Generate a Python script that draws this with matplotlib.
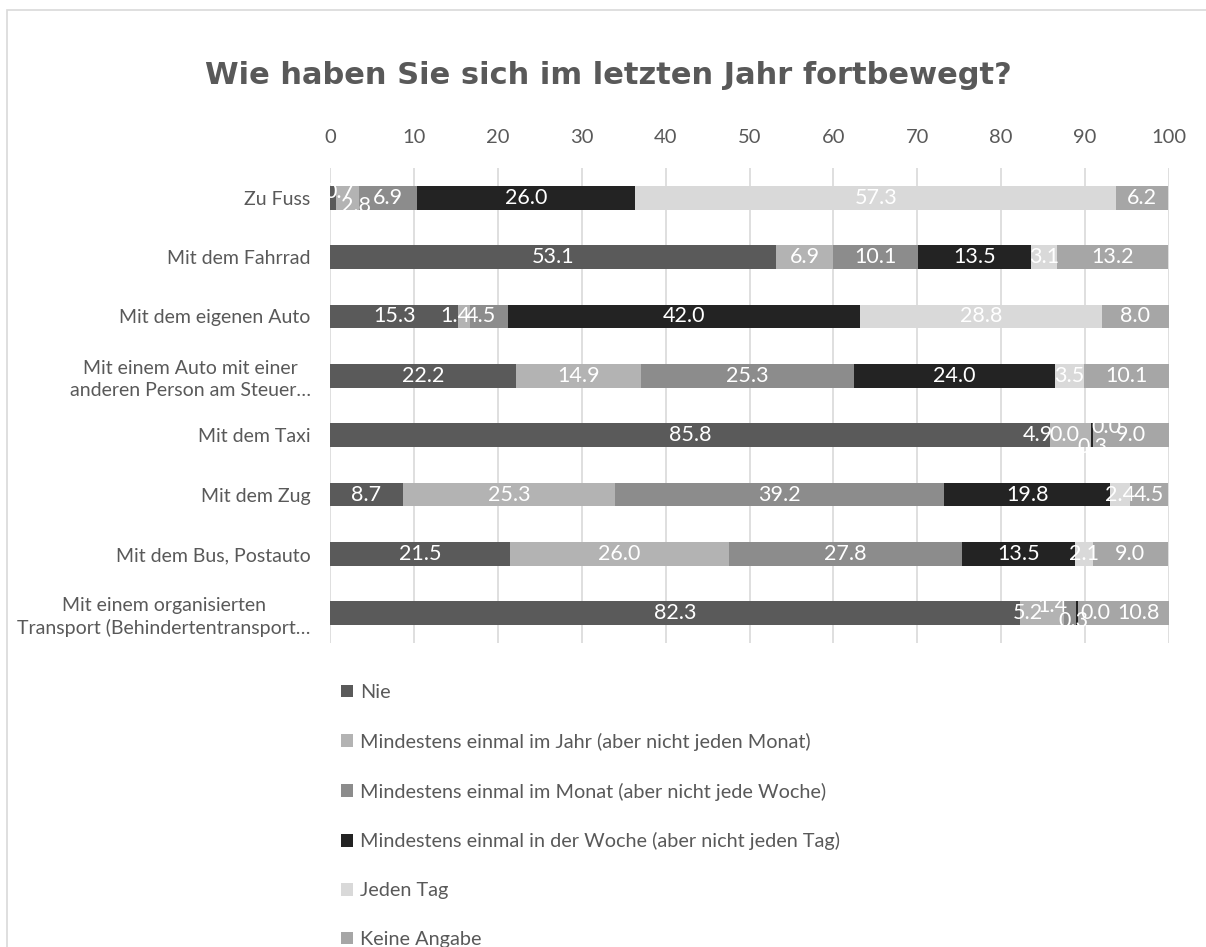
import matplotlib
matplotlib.use("Agg")
import matplotlib.pyplot as plt
from matplotlib.patches import Rectangle

plt.rcParams['font.family'] = ['Lato', 'DejaVu Sans']

categories = ["Zu Fuss", "Mit dem Fahrrad", "Mit dem eigenen Auto",
              "Mit einem Auto mit einer\nanderen Person am Steuer…", "Mit dem Taxi",
              "Mit dem Zug", "Mit dem Bus, Postauto",
              "Mit einem organisierten\nTransport (Behindertentransport…"]
series_names = ["Nie",
                "Mindestens einmal im Jahr (aber nicht jeden Monat)",
                "Mindestens einmal im Monat (aber nicht jede Woche)",
                "Mindestens einmal in der Woche (aber nicht jeden Tag)",
                "Jeden Tag",
                "Keine Angabe"]
nie = [0.7, 53.1, 15.3, 22.2, 85.8, 8.7, 21.5, 82.3]
jahr = [2.8, 6.9, 1.4, 14.9, 4.9, 25.3, 26.0, 5.2]
monat = [6.9, 10.1, 4.5, 25.3, 0.0, 39.2, 27.8, 1.4]
woche = [26.0, 13.5, 42.0, 24.0, 0.3, 19.8, 13.5, 0.3]
tag = [57.3, 3.1, 28.8, 3.5, 0.0, 2.4, 2.1, 0.0]
keine = [6.2, 13.2, 8.0, 10.1, 9.0, 4.5, 9.0, 10.8]
series = [nie, jahr, monat, woche, tag, keine]

colors = ['#5a5a5a', '#b3b3b3', '#8c8c8c', '#232323', '#d9d9d9', '#a6a6a6']
grey = '#595959'

# Verschiebung der Beschriftungen bei sehr schmalen Segmenten (Pixel)
label_shift = {(0, 0): (7, 6), (0, 1): (8, -8), (2, 1): (-9, 0), (2, 2): (-8, 0),
               (4, 1): (-33, 0), (4, 2): (-27, 0), (4, 3): (0, -12), (4, 4): (13, 8),
               (7, 1): (-14, 0), (7, 2): (-18, 7), (7, 3): (-4, -8), (7, 4): (17, 0),
               (7, 5): (15, 0)}

fig = plt.figure(figsize=(12.06, 9.47), dpi=100)
ax = fig.add_axes([330/1206, 1-643/947, 839/1206, 475/947])

y = list(range(len(categories)))
left = [0.0]*len(categories)
containers = []
for s, (vals, name, c) in enumerate(zip(series, series_names, colors)):
    bars = ax.barh(y, vals, left=left, height=0.4, color=c, label=name, zorder=3)
    containers.append(bars)
    for i, (r, v) in enumerate(zip(bars.patches, vals)):
        cx = r.get_x() + r.get_width()/2
        cy = r.get_y() + r.get_height()/2
        dx, dy = label_shift.get((i, s), (0, 0))
        ax.annotate("%.1f" % v, (cx, cy), xytext=(dx, dy), textcoords='offset pixels',
                    ha='center', va='center', color='white', fontsize=15.5, zorder=5)
    left = [a+b for a, b in zip(left, vals)]

ax.set_xlim(0, 100)
ax.set_ylim(len(categories)-0.5, -0.5)
ax.set_xticks(range(0, 101, 10))
ax.xaxis.tick_top()
ax.tick_params(axis='x', length=0, pad=16, labelsize=14.5, labelcolor=grey)
ax.set_yticks(y)
ax.set_yticklabels(categories, fontsize=14, color=grey, ha='right', linespacing=1.3)
for t in ax.get_yticklabels():
    t.set_multialignment('center')
ax.tick_params(axis='y', length=0, pad=14)
ax.grid(axis='x', color='#d9d9d9', lw=1.2, zorder=0)
for sp in ax.spines.values():
    sp.set_visible(False)

fig.text(608/1206, 1-75/947, "Wie haben Sie sich im letzten Jahr fortbewegt?",
         ha='center', va='center', fontsize=22, fontweight='bold', color=grey,
         family=['DejaVu Sans'])

fig.legend(handles=containers, loc='upper left', bbox_to_anchor=(331/1206, 1-674/947),
           frameon=False, handlelength=0.6, handleheight=0.6, handletextpad=0.35,
           labelspacing=1.6, fontsize=14.3, labelcolor=grey, borderpad=0)

fig.add_artist(Rectangle((7/1206, -0.1), 1.2, 1.1 - 10/947, transform=fig.transFigure,
                         fill=False, edgecolor='#d9d9d9', lw=1.2))

fig.savefig("out.png", dpi=100, facecolor='white')
